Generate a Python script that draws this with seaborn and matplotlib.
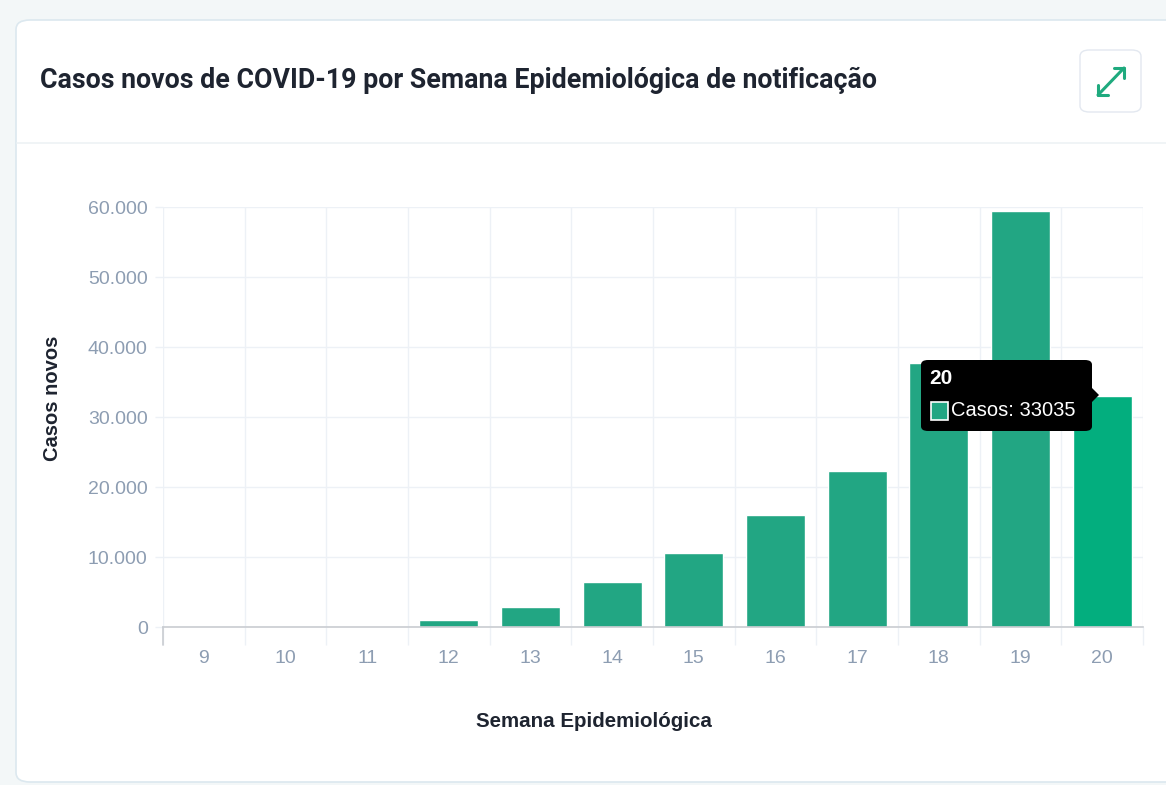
import numpy as np
import pandas as pd
import matplotlib.pyplot as plt
import seaborn as sns
from matplotlib.patches import FancyBboxPatch, Polygon, Rectangle
from matplotlib.ticker import FuncFormatter, FixedLocator

# Dados: casos novos por semana epidemiológica
semanas = ["9", "10", "11", "12", "13", "14", "15", "16", "17", "18", "19", "20"]
casos = [0, 20, 150, 1000, 2800, 6400, 10600, 16000, 22300, 37700, 59400, 33035]
y_ticks = [0, 10000, 20000, 30000, 40000, 50000, 60000]

VERDE = "#22A683"
VERDE_HOVER = "#03AE7E"
COR_TICK = "#8D9DB2"
COR_GRID = "#EDF1F6"
COR_TEXTO = "#1E2430"
FONTE_ARIAL = ["Liberation Sans", "DejaVu Sans"]

sns.set_theme(style="white")
plt.rcParams["font.family"] = ["Roboto", "DejaVu Sans"]

W, H = 1166, 785
fig = plt.figure(figsize=(W / 100, H / 100), dpi=100, facecolor="#F3F7F8")

# ── Cartão branco ─────────────────────────────────────────────────────────
def fx(px):
    return px / W

def fy(py):
    return 1 - py / H

cartao = FancyBboxPatch((fx(16), fy(782)), fx(1180) - fx(16), fy(20) - fy(782),
                        boxstyle="round,pad=0,rounding_size=0.012",
                        transform=fig.transFigure, facecolor="white",
                        edgecolor="#DCE8EF", linewidth=1.2, zorder=-5)
fig.patches.append(cartao)
fig.add_artist(plt.Line2D([fx(17), 1], [fy(143), fy(143)], color="#EEF2F5",
                          lw=1.2, transform=fig.transFigure, zorder=-4))

fig.text(fx(40), fy(80), "Casos novos de COVID-19 por Semana Epidemiológica de notificação",
         fontsize=19.3, fontweight="bold", color=COR_TEXTO, va="center", ha="left")

# botão expandir
botao = FancyBboxPatch((fx(1080), fy(112)), fx(61), fy(50) - fy(112),
                       boxstyle="round,pad=0,rounding_size=0.008",
                       transform=fig.transFigure, facecolor="white",
                       edgecolor="#E3E8F0", linewidth=1.0, zorder=-3)
fig.patches.append(botao)
fig.add_artist(plt.Line2D([fx(1098), fx(1124)], [fy(95), fy(68)], color="#1FAA7E",
                          lw=2.2, transform=fig.transFigure))
for (px, py), (dx, dy) in [((1124, 68), (-1, 1)), ((1098, 95), (1, -1))]:
    fig.add_artist(plt.Line2D([fx(px), fx(px + dx * 10)], [fy(py), fy(py)],
                              color="#1FAA7E", lw=2.2, transform=fig.transFigure))
    fig.add_artist(plt.Line2D([fx(px), fx(px)], [fy(py), fy(py + dy * 10)],
                              color="#1FAA7E", lw=2.2, transform=fig.transFigure))

# ── Gráfico de barras ─────────────────────────────────────────────────────
ax = fig.add_axes([fx(163), fy(627), fx(1143) - fx(163), fy(207) - fy(627)], zorder=1)
ax.set_facecolor("white")

df = pd.DataFrame({"semana": semanas, "casos": casos})
cores = [VERDE] * (len(semanas) - 1) + [VERDE_HOVER]
sns.barplot(data=df, x="semana", y="casos", hue="semana", palette=cores,
            legend=False, width=0.72, saturation=1, ax=ax, zorder=3)

ax.set_xlim(-0.5, len(semanas) - 0.5)
ax.set_ylim(0, 60000)
ax.set_yticks(y_ticks)
ax.yaxis.set_major_formatter(FuncFormatter(lambda v, p: f"{int(v):,}".replace(",", ".")))
ax.xaxis.set_minor_locator(FixedLocator(np.arange(-0.5, len(semanas), 1.0)))
ax.grid(axis="y", which="major", color=COR_GRID, lw=1.0, zorder=0)
ax.grid(axis="x", which="minor", color=COR_GRID, lw=1.0, zorder=0)
ax.set_axisbelow(True)

for lado in ["top", "right", "left"]:
    ax.spines[lado].set_visible(False)
ax.spines["bottom"].set_color("#C9CCD1")
ax.spines["bottom"].set_linewidth(1.2)
ax.spines["bottom"].set_zorder(4)

ax.tick_params(axis="x", which="major", length=0, pad=16.5, labelsize=14, colors=COR_TICK)
ax.tick_params(axis="x", which="minor", length=13, width=1.0, color=COR_GRID, bottom=True)
ax.tick_params(axis="y", which="major", length=6, width=1.0, color=COR_GRID, pad=5,
               labelsize=14, labelcolor=COR_TICK, left=True)
for lbl in ax.get_xticklabels() + ax.get_yticklabels():
    lbl.set_family(FONTE_ARIAL)
ax.plot([0, 0], [0, -0.043], transform=ax.transAxes, clip_on=False,
        color="#C9CCD1", lw=1.2, zorder=5)

ax.set_xlabel("Semana Epidemiológica", fontsize=14.8, fontweight="bold", color=COR_TEXTO,
              family=FONTE_ARIAL)
ax.xaxis.set_label_coords(0.44, -0.203)
ax.set_ylabel("Casos novos", fontsize=14.5, fontweight="bold", color=COR_TEXTO,
              family=FONTE_ARIAL)
ax.yaxis.set_label_coords(-0.103, 0.545)

# ── Tooltip ───────────────────────────────────────────────────────────────
tt = FancyBboxPatch((fx(921), fy(431)), fx(171), fy(360) - fy(431),
                    boxstyle="round,pad=0,rounding_size=0.006",
                    transform=fig.transFigure, facecolor="black", edgecolor="none", zorder=10)
fig.patches.append(tt)
fig.patches.append(Polygon([(fx(1091), fy(387)), (fx(1099), fy(395)), (fx(1091), fy(403))],
                           closed=True, transform=fig.transFigure, facecolor="black",
                           edgecolor="none", zorder=10))
fig.text(fx(929), fy(379), semanas[-1], fontsize=15, fontweight="bold", color="white",
         family=FONTE_ARIAL, va="center", ha="left", zorder=11)
fig.patches.append(Rectangle((fx(931), fy(420)), fx(17), fy(402) - fy(420),
                             transform=fig.transFigure, facecolor=VERDE,
                             edgecolor="white", lw=1.2, zorder=11))
fig.text(fx(951), fy(411), f"Casos: {casos[-1]}", fontsize=14.5, color="white",
         family=FONTE_ARIAL, va="center", ha="left", zorder=11)

plt.savefig("out.png", dpi=100, facecolor=fig.get_facecolor())
